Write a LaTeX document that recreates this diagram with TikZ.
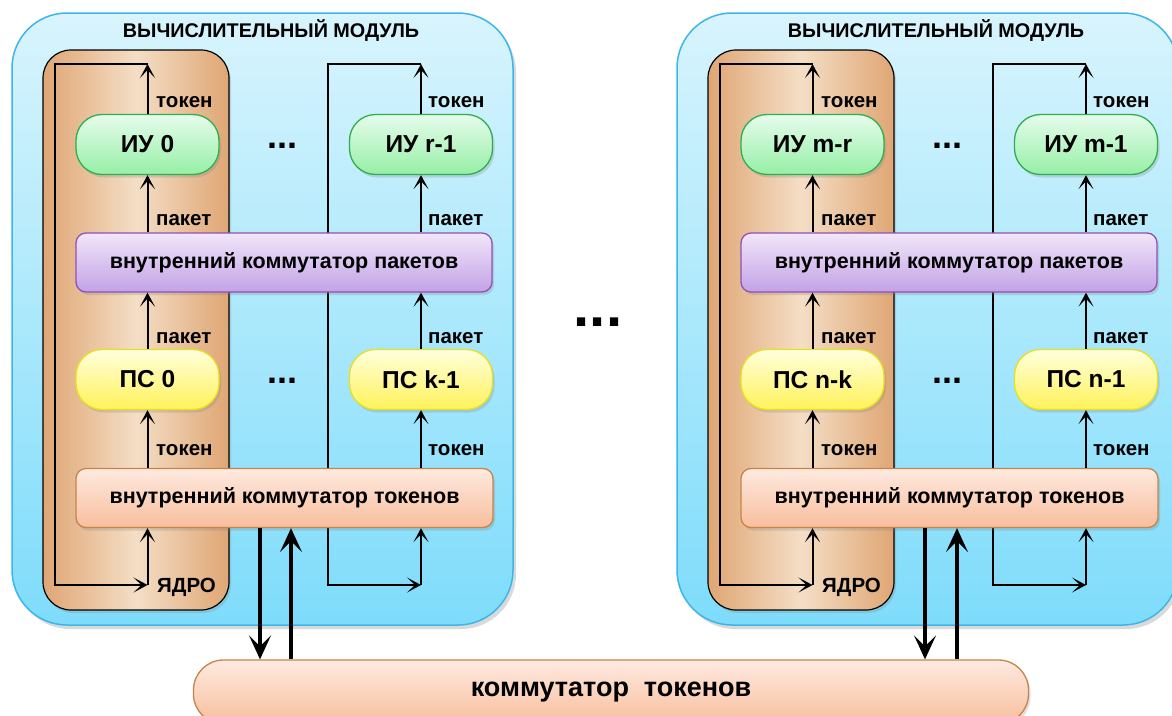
\documentclass[tikz,border=0pt]{standalone}
\usepackage{fontspec}
\setmainfont{Liberation Sans}
\usetikzlibrary{arrows.meta,shadows}
\definecolor{modtop}{HTML}{D8F4FD}
\definecolor{modbot}{HTML}{7EDCFB}
\definecolor{modline}{HTML}{3CB6EA}
\definecolor{coreedge}{HTML}{DFA674}
\definecolor{coremid}{HTML}{F4DEC6}
\definecolor{iutop}{HTML}{E6FCEC}
\definecolor{iubot}{HTML}{96EFA6}
\definecolor{iuline}{HTML}{2EAE4E}
\definecolor{pkttop}{HTML}{F1E6F9}
\definecolor{pktbot}{HTML}{C3A2E7}
\definecolor{pktline}{HTML}{9150B5}
\definecolor{pstop}{HTML}{FFFFDC}
\definecolor{psbot}{HTML}{FFF25A}
\definecolor{psline}{HTML}{E6E020}
\definecolor{toktop}{HTML}{FEEAE0}
\definecolor{tokbot}{HTML}{F8BE9C}
\definecolor{tokline}{HTML}{C98248}

\tikzset{
  shd/.style={drop shadow={opacity=0.25,shadow xshift=2pt,shadow yshift=-3pt}},
  modbox/.style={rectangle,draw=modline,line width=1.5pt,top color=modtop,bottom color=modbot,
    rounded corners=55pt,minimum width=501pt,minimum height=612pt,inner sep=0pt,
    drop shadow={opacity=0.3,shadow xshift=3pt,shadow yshift=-4pt}},
  corebox/.style={rectangle,draw=black,line width=1.2pt,left color=coreedge,right color=coreedge,middle color=coremid,
    rounded corners=28pt,minimum width=186pt,minimum height=560pt,inner sep=0pt,shd},
  pill/.style={rectangle,line width=1.3pt,rounded corners=26pt,minimum width=143pt,minimum height=60pt,inner sep=0pt,
    font=\fontsize{24.5}{28}\selectfont\bfseries,shd},
  iubox/.style={pill,draw=iuline,top color=iutop,bottom color=iubot},
  psbox/.style={pill,draw=psline,top color=pstop,bottom color=psbot},
  swbox/.style={rectangle,line width=1.3pt,rounded corners=10pt,minimum height=59pt,inner sep=0pt,
    font=\fontsize{21.5}{24}\selectfont\bfseries,shd},
  pktbox/.style={swbox,draw=pktline,top color=pkttop,bottom color=pktbot,minimum width=416pt},
  tokbox/.style={swbox,draw=tokline,top color=toktop,bottom color=tokbot,minimum width=417pt},
  lbl/.style={anchor=west,inner sep=0pt,font=\fontsize{20.5}{24}\selectfont\bfseries},
  titletext/.style={inner sep=0pt,font=\fontsize{19.8}{22}\selectfont\bfseries},
  dots/.style={inner sep=0pt,font=\fontsize{36}{36}\selectfont\bfseries},
  arr/.style={line width=2pt,-{Stealth[length=14pt,width=15pt,inset=8pt]}},
  tharr/.style={line width=4.5pt,-{Stealth[length=24pt,width=22pt,inset=11pt]}},
}

\newcommand\vmmodule[4]{%
  \node[modbox] (mod) at (262.5,319) {};
  \node[titletext] (ttl) at (271,31) {ВЫЧИСЛИТЕЛЬНЫЙ МОДУЛЬ};
  \node[corebox] (core) at (136,330) {};
  \coordinate (aT) at (147.5,64);
  \coordinate (aTL) at (55,64);
  \coordinate (aBL) at (55,585);
  \coordinate (aB) at (147.5,585);
  \coordinate (bT) at (421,64);
  \coordinate (bTL) at (328,64);
  \coordinate (bBL) at (328,585);
  \coordinate (bB) at (421,585);
  \draw[arr] (aT) -- (aTL) -- (aBL) -- (aB);
  \draw[arr] (bT) -- (bTL) -- (bBL) -- (bB);
  \node[iubox] (iuA) at (147.5,144.5) {#1};
  \node[iubox] (iuB) at (421,144.5) {#2};
  \node[dots] (dI) at (282,146) {...};
  \node[pktbox] (pkt) at (284,262.5) {внутренний коммутатор пакетов};
  \node[psbox] (psA) at (147.5,379.5) {#3};
  \node[psbox] (psB) at (421,379.5) {#4};
  \node[dots] (dP) at (282,381) {...};
  \node[tokbox] (tsw) at (284.5,498) {внутренний коммутатор токенов};
  \draw[arr] (iuA.north) -- (aT);
  \draw[arr] (iuB.north) -- (bT);
  \draw[arr] (pkt.north -| iuA) -- (iuA.south);
  \draw[arr] (pkt.north -| iuB) -- (iuB.south);
  \draw[arr] (psA.north) -- (pkt.south -| psA);
  \draw[arr] (psB.north) -- (pkt.south -| psB);
  \draw[arr] (tsw.north -| psA) -- (psA.south);
  \draw[arr] (tsw.north -| psB) -- (psB.south);
  \draw[arr] (aB) -- (tsw.south -| aB);
  \draw[arr] (bB) -- (tsw.south -| bB);
  \node[lbl] (la1) at (156,102.5) {токен};
  \node[lbl] (la2) at (156,220.5) {пакет};
  \node[lbl] (la3) at (156,338) {пакет};
  \node[lbl] (la4) at (156,450) {токен};
  \node[lbl] (lb1) at (428,102.5) {токен};
  \node[lbl] (lb2) at (428,220.5) {пакет};
  \node[lbl] (lb3) at (428,338) {пакет};
  \node[lbl] (lb4) at (428,450) {токен};
  \node[lbl] (core-lbl) at (157,587.5) {ЯДРО};
}

\begin{document}
\begin{tikzpicture}[x=1pt,y=-1pt]
\useasboundingbox (0,0) rectangle (1172,715);
\clip (0,0) rectangle (1172,715);
\begin{scope}[name prefix=L-]
  \vmmodule{ИУ 0}{ИУ r-1}{ПС 0}{ПС k-1}
\end{scope}
\begin{scope}[xshift=665pt,name prefix=R-]
  \vmmodule{ИУ m-r}{ИУ m-1}{ПС n-k}{ПС n-1}
\end{scope}
\node[rectangle,draw=tokline,line width=1.3pt,top color=toktop,bottom color=tokbot,rounded corners=30pt,
  minimum width=835pt,minimum height=64pt,inner sep=0pt,shd,
  font=\fontsize{27}{30}\selectfont\bfseries] (ktok) at (611,692) {коммутатор\hspace{0.55em}токенов};
\node[inner sep=0pt,font=\fontsize{58}{58}\selectfont\bfseries] (dmid) at (598,322) {...};
\coordinate (x1) at (260,0);
\coordinate (x2) at (291,0);
\coordinate (x3) at (925,0);
\coordinate (x4) at (957,0);
\draw[tharr] (L-tsw.south -| x1) -- (ktok.north -| x1);
\draw[tharr] (ktok.north -| x2) -- (L-tsw.south -| x2);
\draw[tharr] (R-tsw.south -| x3) -- (ktok.north -| x3);
\draw[tharr] (ktok.north -| x4) -- (R-tsw.south -| x4);
\end{tikzpicture}
\end{document}
